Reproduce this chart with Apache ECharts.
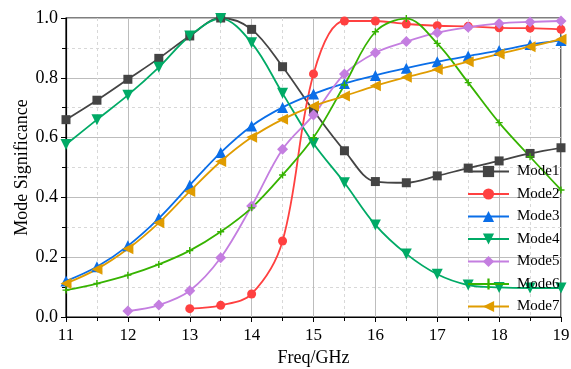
<!DOCTYPE html>
<html>
<head>
<meta charset="utf-8">
<script src="https://cdn.jsdelivr.net/npm/echarts@6/dist/echarts.min.js"></script>
<style>
  html, body { margin: 0; padding: 0; background: #fff; }
  #chart { width: 571px; height: 369px; }
</style>
</head>
<body>
<div id="chart"></div>
<script>
const freq = [11, 11.5, 12, 12.5, 13, 13.5, 14, 14.5, 15, 15.5, 16, 16.5, 17, 17.5, 18, 18.5, 19];

const mode1 = [0.66, 0.725, 0.795, 0.865, 0.94, 1.0, 0.962, 0.837, 0.69, 0.556, 0.453, 0.449, 0.472, 0.498, 0.522, 0.547, 0.566];
const mode2 = [null, null, null, null, 0.028, 0.039, 0.077, 0.254, 0.813, 0.99, 0.99, 0.98, 0.974, 0.972, 0.967, 0.966, 0.962];
const mode3 = [0.12, 0.168, 0.238, 0.33, 0.441, 0.55, 0.639, 0.701, 0.746, 0.781, 0.808, 0.832, 0.854, 0.873, 0.891, 0.911, 0.925];
const mode4 = [0.577, 0.66, 0.742, 0.835, 0.94, 0.998, 0.917, 0.748, 0.58, 0.449, 0.308, 0.211, 0.143, 0.107, 0.099, 0.097, 0.097];
const mode5 = [null, null, 0.02, 0.04, 0.088, 0.198, 0.371, 0.561, 0.676, 0.813, 0.884, 0.921, 0.951, 0.969, 0.982, 0.987, 0.99];
const mode6 = [0.09, 0.112, 0.14, 0.176, 0.222, 0.285, 0.365, 0.475, 0.6, 0.776, 0.954, 0.998, 0.915, 0.784, 0.65, 0.536, 0.425];
const mode7 = [0.112, 0.16, 0.228, 0.315, 0.42, 0.52, 0.601, 0.661, 0.706, 0.739, 0.773, 0.802, 0.828, 0.854, 0.88, 0.904, 0.929];

const names = ['Mode1', 'Mode2', 'Mode3', 'Mode4', 'Mode5', 'Mode6', 'Mode7'];
const colors = ['#444444', '#ff4040', '#0a6ee8', '#00aa66', '#c47ee0', '#36b300', '#e09c00'];
const plusPath = 'path://M4,0L6,0L6,4L10,4L10,6L6,6L6,10L4,10L4,6L0,6L0,4L4,4Z';
const symbols = ['rect', 'circle', 'triangle', 'triangle', 'diamond', plusPath, 'triangle'];
const rotates = [0, 0, 0, 180, 0, 0, 90];
const sizes = [9, 9, 11, 11, 11, 7, 11];

const chart = echarts.init(document.getElementById('chart'));
const font = '"Liberation Serif", "Times New Roman", serif';

const series = [mode1, mode2, mode3, mode4, mode5, mode6, mode7].map((vals, i) => ({
  name: names[i],
  type: 'line',
  data: freq.map((f, j) => [f, vals[j]]),
  smooth: 0.35,
  symbol: symbols[i],
  symbolRotate: rotates[i],
  symbolSize: sizes[i],
  showAllSymbol: true,
  connectNulls: false,
  itemStyle: { color: colors[i] },
  lineStyle: { color: colors[i], width: 1.8 },
  emphasis: { disabled: true }
}));

chart.setOption({
  animation: false,
  textStyle: { fontFamily: font },
  grid: {
    left: 66, right: 10, top: 18, bottom: 52,
    outerBoundsMode: 'none',
    show: true, borderColor: '#000', borderWidth: 1.2
  },
  legend: {
    data: names,
    orient: 'vertical',
    left: 462,
    top: 159,
    itemWidth: 41,
    itemHeight: 14,
    itemGap: 7.5,
    textStyle: { fontFamily: font, fontSize: 15, color: '#000', padding: [0, 0, 0, 3] }
  },
  xAxis: {
    type: 'value',
    min: 11, max: 19, interval: 1,
    name: 'Freq/GHz',
    nameLocation: 'middle',
    nameGap: 32,
    nameMoveOverlap: false,
    nameTextStyle: { fontFamily: font, fontSize: 18, color: '#000' },
    axisLine: { lineStyle: { color: '#000', width: 1.2 } },
    axisTick: { inside: false, length: 5, lineStyle: { color: '#000' } },
    minorTick: { show: true, splitNumber: 2, length: 4, lineStyle: { color: '#000' } },
    axisLabel: { fontFamily: font, fontSize: 17, color: '#000', margin: 10 },
    splitLine: { show: true, lineStyle: { color: '#bdbdbd', width: 1 } },
    minorSplitLine: { show: true, lineStyle: { color: '#d8d8d8', type: [3, 3], width: 1 } }
  },
  yAxis: {
    type: 'value',
    min: 0, max: 1, interval: 0.2,
    name: 'Mode Significance',
    nameLocation: 'middle',
    nameGap: 35,
    nameMoveOverlap: false,
    nameTextStyle: { fontFamily: font, fontSize: 18, color: '#000' },
    axisLine: { show: true, lineStyle: { color: '#000', width: 1.2 } },
    axisTick: { show: true, inside: false, length: 5, lineStyle: { color: '#000' } },
    minorTick: { show: true, splitNumber: 2, length: 4, lineStyle: { color: '#000' } },
    axisLabel: { fontFamily: font, fontSize: 18, color: '#000', margin: 8,
      formatter: v => v.toFixed(1) },
    splitLine: { show: true, lineStyle: { color: '#bdbdbd', width: 1 } },
    minorSplitLine: { show: true, lineStyle: { color: '#d8d8d8', type: [3, 3], width: 1 } }
  },
  series
});
</script>
</body>
</html>
